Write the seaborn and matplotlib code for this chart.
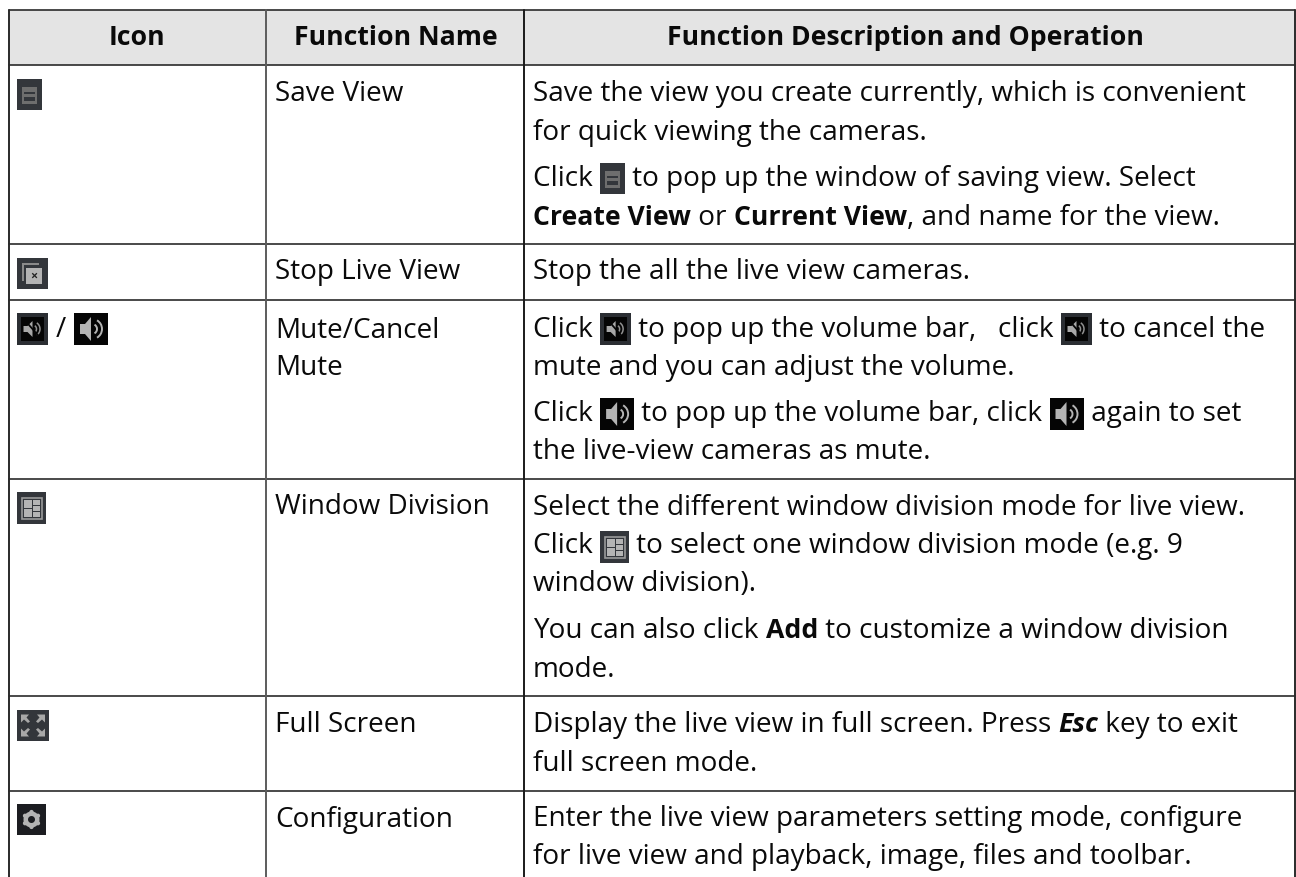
import matplotlib
matplotlib.use("Agg")
import matplotlib.pyplot as plt
import seaborn as sns
from matplotlib.patches import Rectangle, Polygon, Circle, Wedge, Arc

# ---- table content ----
col_edges = [8.5, 266, 523.5, 1295]
col_line_colours = ["#2a2a2a", "#5c5c5c", "#1a1a1a", "#2a2a2a"]
row_edges = [9.5, 65, 244, 299.5, 479, 696, 790.5]
table_bottom = 877
headers = ["Icon", "Function Name", "Function Description and Operation"]
header_centres = [137, 396, 905]
names = [("Save View", 101), ("Stop Live View", 279), ("Mute/Cancel", 338), ("Mute", 375),
         ("Window Division", 514), ("Full Screen", 732), ("Configuration", 827)]
R, B = "r", "b"
desc_lines = [
    (101, [(R, "Save the view you create currently, which is convenient")]),
    (140, [(R, "for quick viewing the cameras.")]),
    (186, [(R, "Click "), ("icon", "save"), (R, " to pop up the window of saving view. Select")]),
    (225, [(B, "Create View"), (R, " or "), (B, "Current View"), (R, ", and name for the view.")]),
    (279, [(R, "Stop the all the live view cameras.")]),
    (337, [(R, "Click "), ("icon", "mute"), (R, " to pop up the volume bar,   click "), ("icon", "mute"), (R, " to cancel the")]),
    (375, [(R, "mute and you can adjust the volume.")]),
    (421, [(R, "Click "), ("icon", "vol"), (R, " to pop up the volume bar, click "), ("icon", "vol"), (R, " again to set")]),
    (459, [(R, "the live-view cameras as mute.")]),
    (515, [(R, "Select the different window division mode for live view.")]),
    (553, [(R, "Click "), ("icon", "win"), (R, " to select one window division mode (e.g. 9")]),
    (591, [(R, "window division).")]),
    (638, [(R, "You can also click "), (B, "Add"), (R, " to customize a window division")]),
    (677, [(R, "mode.")]),
    (732, [(R, "Display the live view in full screen. Press "), ("bi", "Esc"), (R, " key to exit")]),
    (771, [(R, "full screen mode.")]),
    (826, [(R, "Enter the live view parameters setting mode, configure")]),
    (864, [(R, "for live view and playback, image, files and toolbar.")]),
]
# ---- styles ----
FS = 20.1
FS_BOLD = 19.15
FONT = "Open Sans"
INK = "#0a0a0a"
HEAD_BG = "#e4e4e4"
LINE = "#2a2a2a"

sns.set_theme(style="white", rc={"font.family": FONT})
fig = plt.figure(figsize=(12.96, 8.77), dpi=100)
ax = fig.add_axes([0, 0, 1, 1])
ax.set_xlim(0, 1296)
ax.set_ylim(877, 0)
ax.axis("off")

ax.add_patch(Rectangle((col_edges[0], row_edges[0]), col_edges[-1] - col_edges[0],
                       row_edges[1] - row_edges[0], fc=HEAD_BG, ec="none", zorder=0))
for y in row_edges:
    sns.lineplot(x=[col_edges[0], col_edges[-1]], y=[y, y], color=LINE, lw=1.2, ax=ax, zorder=2,
                 estimator=None, sort=False)
for x, c in zip(col_edges, col_line_colours):
    sns.lineplot(x=[x, x], y=[row_edges[0], table_bottom], color=c, lw=1.4, ax=ax, zorder=2,
                 estimator=None, sort=False)


def icon(kind, x, y):
    """Draw one small toolbar icon with top-left corner x, y."""
    sizes = {"save": (25, 31, "#33363b"), "stop": (31, 31, "#33363b"), "mute": (31, 32, "#2b2e33"),
             "vol": (34, 32, "#050505"), "win": (29, 32, "#33363b"), "full": (32, 31, "#33363b"),
             "gear": (29, 31, "#1c1d21")}
    w, h, bg = sizes[kind]
    ax.add_patch(Rectangle((x, y), w, h, fc=bg, ec="none", zorder=3))
    cx, cy = x + w / 2, y + h / 2
    g = "#b4b4b4"
    if kind == "save":
        ax.add_patch(Rectangle((x + 5, y + 8), 15, 17, fc="#6e6e6e", ec="none", zorder=4))
        ax.add_patch(Rectangle((x + 7, y + 13), 11, 1.6, fc="#33363b", ec="none", zorder=5))
        ax.add_patch(Rectangle((x + 7, y + 18), 11, 4, fc="#33363b", ec="none", zorder=5))
    elif kind == "stop":
        ax.add_patch(Rectangle((x + 5, y + 5), 17, 2, fc="#8a8a8a", ec="none", zorder=4))
        ax.add_patch(Rectangle((x + 5, y + 5), 2, 18, fc="#8a8a8a", ec="none", zorder=4))
        ax.add_patch(Rectangle((x + 9, y + 10), 16, 16, fc=g, ec="none", zorder=4))
        ax.text(x + 17, y + 18, "×", fontsize=9, ha="center", va="center", color="#222222",
                fontweight="bold", zorder=5)
    elif kind == "mute":
        ax.add_patch(Rectangle((x + 4, y + 4), w - 8, h - 8, fc="#050505", ec="none", zorder=4))
        ax.add_patch(Polygon([(cx - 9, cy - 3), (cx - 5, cy - 3), (cx, cy - 8), (cx, cy + 8),
                              (cx - 5, cy + 3), (cx - 9, cy + 3)], fc="#a8a8a8", ec="none", zorder=5))
        for r in (4, 7.5):
            ax.add_patch(Arc((cx, cy), 2 * r, 2 * r, theta1=-55, theta2=55, color="#909090", lw=1.1, zorder=5))
        ax.plot([cx - 7, cx + 7], [cy - 8, cy + 8], color="#050505", lw=1.3, zorder=6)
    elif kind == "vol":
        ax.add_patch(Polygon([(cx - 11, cy - 5), (cx - 6, cy - 5), (cx, cy - 12), (cx, cy + 12),
                              (cx - 6, cy + 5), (cx - 11, cy + 5)], fc=g, ec="none", zorder=5))
        for r in (5, 10):
            ax.add_patch(Arc((cx + 1, cy), 2 * r, 2 * r, theta1=-60, theta2=60, color=g, lw=1.4, zorder=5))
    elif kind == "win":
        ax.add_patch(Rectangle((x + 4.5, y + 5.5), 20, 21, fc="#33363b", ec="#9a9a9a", lw=1.2, zorder=4))
        ax.add_patch(Rectangle((x + 6.5, y + 7.5), 8, 8, fc=g, ec="none", zorder=5))
        ax.add_patch(Rectangle((x + 6.5, y + 17), 8, 8, fc=g, ec="none", zorder=5))
        ax.add_patch(Rectangle((x + 16, y + 7.5), 7, 5, fc=g, ec="none", zorder=5))
        ax.add_patch(Rectangle((x + 16, y + 14), 7, 4.5, fc=g, ec="none", zorder=5))
        ax.add_patch(Rectangle((x + 16, y + 20), 7, 5, fc=g, ec="none", zorder=5))
    elif kind == "full":
        for dx, dy in ((-1, -1), (1, -1), (-1, 1), (1, 1)):
            ax.add_patch(Polygon([(cx + dx * 12, cy + dy * 11), (cx + dx * 4, cy + dy * 11),
                                  (cx + dx * 6.5, cy + dy * 8), (cx + dx * 3, cy + dy * 4),
                                  (cx + dx * 5, cy + dy * 2.5), (cx + dx * 9, cy + dy * 6),
                                  (cx + dx * 12, cy + dy * 3)],
                                 fc="#a8a8a8", ec="none", zorder=4))
    elif kind == "gear":
        ax.add_patch(Wedge((cx, cy), 8, 0, 360, width=4.5, fc=g, ec="none", zorder=4))
        for dx, dy in ((0, 1), (0, -1), (.87, .5), (-.87, .5), (.87, -.5), (-.87, -.5)):
            ax.add_patch(Circle((cx + dx * 7.5, cy + dy * 7.5), 2.1, fc=g, ec="none", zorder=4))
    return w


fig.canvas.draw()
rend = fig.canvas.get_renderer()
ICON_RISE = {"save": 23, "mute": 24, "vol": 23, "win": 22}


def run(x, base, segs):
    for kind, val in segs:
        if kind == "icon":
            x += icon(val, x, base - ICON_RISE[val])
            continue
        bold = kind in (B, "bi")
        t = ax.text(x, base, val, fontsize=FS_BOLD if bold else FS,
                    fontweight="bold" if bold else "normal",
                    fontstyle="italic" if kind == "bi" else "normal", color=INK,
                    ha="left", va="baseline", zorder=6)
        x = t.get_window_extent(rend).x1
    return x


for h, cx in zip(headers, header_centres):
    ax.text(cx, 45, h, fontsize=FS_BOLD, fontweight="bold",
            color=INK, ha="center", va="baseline", zorder=6)
for s, y in names:
    ax.text(275, y, s, fontsize=FS, color=INK, ha="left", va="baseline", zorder=6)
for y, segs in desc_lines:
    run(533, y, segs)

# icon column
for kind, y in (("save", 79), ("stop", 258), ("mute", 313), ("win", 492), ("full", 710), ("gear", 804)):
    icon(kind, 17, y)
ax.text(61, 337, "/", fontsize=FS, color=INK, ha="center", va="baseline", zorder=6)
icon("vol", 74, 313)

fig.savefig("out.png", dpi=100)
